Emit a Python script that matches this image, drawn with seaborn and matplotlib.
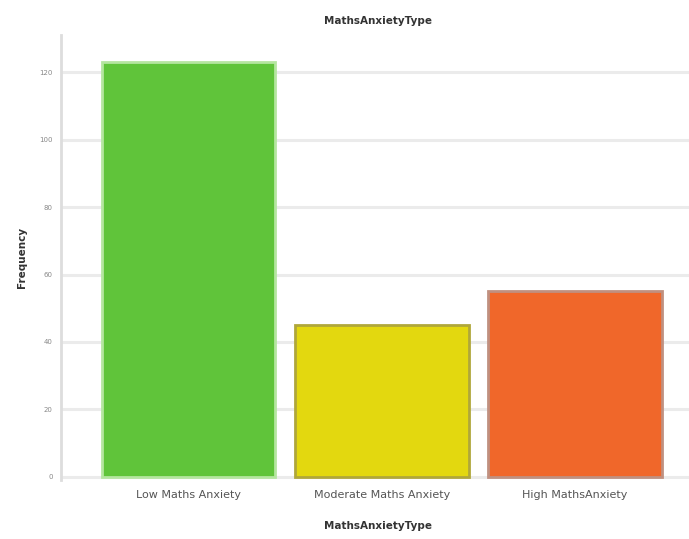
import matplotlib
matplotlib.use("Agg")
import matplotlib.pyplot as plt
import seaborn as sns
import pandas as pd

categories = ["Low Maths Anxiety", "Moderate Maths Anxiety", "High MathsAnxiety"]
frequency = [123, 45, 55]
bar_colors = ["#60c43a", "#e3d80f", "#f0672a"]
edge_colors = ["#b5e6a0", "#b0a73a", "#c09080"]
y_ticks = [0, 20, 40, 60, 80, 100, 120]

sns.set_theme(style="white")
plt.rcParams['font.family'] = ['DejaVu Sans']

df = pd.DataFrame({"MathsAnxietyType": categories, "Frequency": frequency})

fig = plt.figure(figsize=(6.89, 5.39), dpi=100)
ax = fig.add_axes([0.0885, 0.109, 0.92, 0.826])

sns.barplot(data=df, x="MathsAnxietyType", y="Frequency", hue="MathsAnxietyType",
            palette=bar_colors, saturation=1, legend=False, width=0.9, ax=ax, zorder=3)
for patch, ec in zip(ax.patches, edge_colors):
    patch.set_edgecolor(ec)
    patch.set_linewidth(2)

ax.set_ylim(-1, 131)
ax.set_xlim(-0.66, 2.62)
ax.set_yticks(y_ticks)
ax.set_yticklabels([str(t) for t in y_ticks], fontsize=5, color="#888888")
ax.tick_params(axis="x", labelsize=8, colors="#555555", length=0, pad=7)
ax.tick_params(axis="y", length=0, pad=6)
ax.grid(axis="y", color="#ebebeb", linewidth=2.2, zorder=0)
for side in ["top", "right", "bottom"]:
    ax.spines[side].set_visible(False)
ax.spines["left"].set_color("#dddddd")
ax.spines["left"].set_linewidth(2)

ax.set_title("MathsAnxietyType", fontsize=7.5, fontweight="bold", color="#333333", pad=8)
ax.set_xlabel("MathsAnxietyType", fontsize=7.5, fontweight="bold", color="#333333", labelpad=15)
ax.set_ylabel("Frequency", fontsize=7.5, fontweight="bold", color="#333333", labelpad=9)

fig.savefig("out.png", dpi=100)
